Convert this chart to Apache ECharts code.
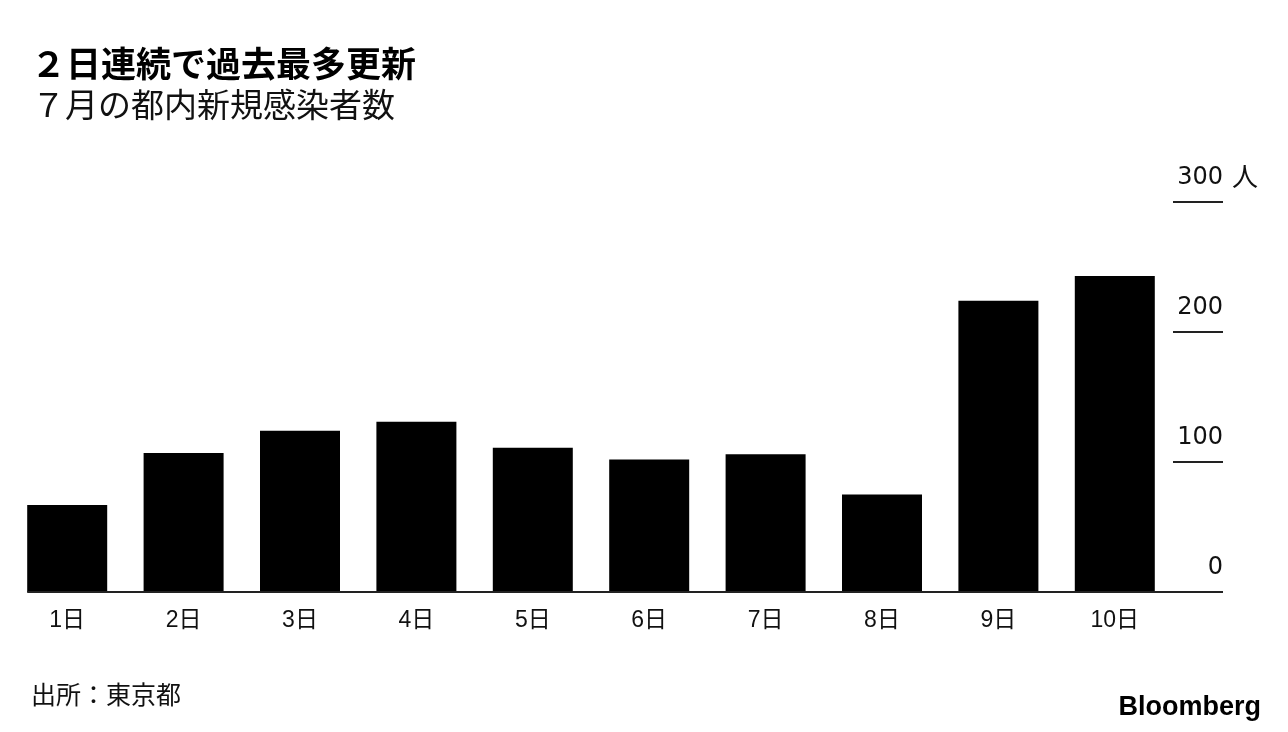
<!DOCTYPE html>
<html>
<head>
<meta charset="utf-8">
<script src="https://cdn.jsdelivr.net/npm/echarts@6/dist/echarts.min.js"></script>
<style>
html,body{margin:0;padding:0;background:#fff;}
#chart{width:1288px;height:732px;}
</style>
</head>
<body>
<div id="chart"></div>
<script>
const categories = ['1日','2日','3日','4日','5日','6日','7日','8日','9日','10日'];
const cases = [67, 107, 124, 131, 111, 102, 106, 75, 224, 243];
const yTicks = [0, 100, 200, 300];
const titleText = '２日連続で過去最多更新';
const subtitleText = '７月の都内新規感染者数';
const unitText = '人';
const sourceText = '出所：東京都';
const logoText = 'Bloomberg';

const FONT = '"Liberation Sans", Arial, "Noto Sans CJK JP", sans-serif';
const NUMFONT = '"DejaVu Sans", "Liberation Sans", sans-serif';
const CJK = '"Noto Sans CJK JP", "Liberation Sans", sans-serif';

const chart = echarts.init(document.getElementById('chart'), null, {renderer: 'canvas'});
const option = {
  animation: false,
  backgroundColor: '#ffffff',
  title: [
    {text: titleText, left: 26, top: 41, textStyle: {fontFamily: CJK, fontSize: 35, fontWeight: 'bold', color: '#000'}},
    {text: subtitleText, left: 27, top: 83, textStyle: {fontFamily: CJK, fontSize: 33, fontWeight: 'normal', color: '#111'}},
    {text: sourceText, left: 26, top: 677, textStyle: {fontFamily: CJK, fontSize: 25, fontWeight: 'normal', color: '#111'}},
    {text: logoText, right: 22, top: 689, textStyle: {fontFamily: FONT, fontSize: 27, fontWeight: 'bold', color: '#000'}}
  ],
  grid: {left: 9, right: 115, top: 202, bottom: 140, containLabel: false},
  xAxis: {
    type: 'category',
    data: categories,
    axisLine: {show: false},
    axisTick: {show: false},
    axisLabel: {margin: 17, fontFamily: FONT, fontSize: 23, color: '#111'}
  },
  yAxis: {
    type: 'value',
    position: 'right',
    min: 0, max: 300, interval: 100,
    name: unitText,
    nameLocation: 'end',
    nameGap: 26,
    nameTextStyle: {fontFamily: CJK, fontSize: 26, color: '#111', align: 'left', verticalAlign: 'middle', padding: [0, 0, 0, 59]},
    axisLine: {show: false},
    splitLine: {show: false},
    axisTick: {show: true, inside: false, length: 50, lineStyle: {color: '#222', width: 2}},
    axisLabel: {
      margin: 50, align: 'right', verticalAlign: 'bottom', padding: [0, 0, 12, 0],
      fontFamily: NUMFONT, fontSize: 24, color: '#111',
      formatter: function (v) { return yTicks.indexOf(v) >= 0 ? String(v) : ''; }
    }
  },
  series: [{
    type: 'bar',
    data: cases,
    barWidth: 80,
    itemStyle: {color: '#000'},
    silent: true
  }]
};
chart.setOption(option);

// baseline from the left edge of the first bar to the end of the tick marks
const y0 = chart.convertToPixel({yAxisIndex: 0}, 0);
const xFirst = chart.convertToPixel({xAxisIndex: 0}, categories[0]);
chart.setOption({
  graphic: [{
    type: 'line',
    shape: {x1: xFirst - 40, y1: y0, x2: 1223, y2: y0},
    style: {stroke: '#222', lineWidth: 2},
    z: 10
  }]
});
</script>
</body>
</html>
